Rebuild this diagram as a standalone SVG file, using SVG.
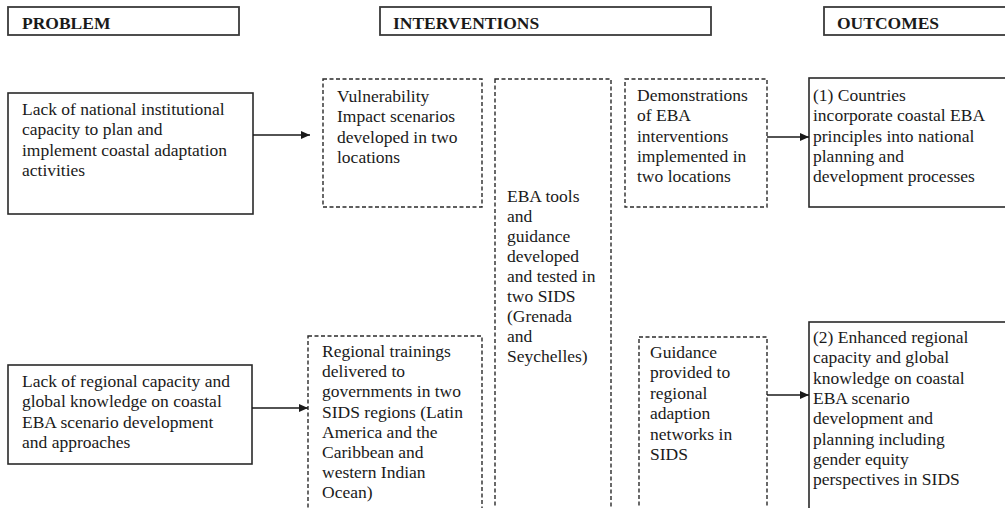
<svg xmlns="http://www.w3.org/2000/svg" width="1005" height="508" viewBox="0 0 1005 508">
<style>
.hdr{fill:#fff;stroke:#3a3a3a;stroke-width:1.8}
.solid{fill:#fff;stroke:#2a2a2a;stroke-width:1.6}
.dash{fill:#fff;stroke:#2a2a2a;stroke-width:1.4;stroke-dasharray:4 2.5}
text{font-family:"Liberation Serif","Times New Roman",serif;font-size:17.5px;fill:#1a1a1a}
.h{font-weight:bold}
.conn line{stroke:#1a1a1a;stroke-width:1.6}
</style>
<defs>
<marker id="ah" markerWidth="10" markerHeight="10" refX="9" refY="5" orient="auto" markerUnits="userSpaceOnUse">
<path d="M0,1 L9,5 L0,9 Z" fill="#1a1a1a"/>
</marker>
</defs>
<g id="hdr-problem"><rect class="hdr" x="8" y="7" width="231" height="28"/><text class="h" x="22" y="29">PROBLEM</text></g>
<g id="hdr-interventions"><rect class="hdr" x="380" y="7" width="331" height="28"/><text class="h" x="393" y="29">INTERVENTIONS</text></g>
<g id="hdr-outcomes"><rect class="hdr" x="824" y="7" width="190" height="28"/><text class="h" x="837" y="29">OUTCOMES</text></g>

<g id="problem1"><rect class="solid" x="8" y="93" width="245" height="121"/>
<text x="22" y="115"><tspan x="22">Lack of national institutional</tspan><tspan x="22" dy="20.3">capacity to plan and</tspan><tspan x="22" dy="20.3">implement coastal adaptation</tspan><tspan x="22" dy="20.3">activities</tspan></text></g>

<g id="problem2"><rect class="solid" x="8" y="365" width="244" height="99"/>
<text x="22" y="387"><tspan x="22">Lack of regional capacity and</tspan><tspan x="22" dy="20.3">global knowledge on coastal</tspan><tspan x="22" dy="20.3">EBA scenario development</tspan><tspan x="22" dy="20.3">and approaches</tspan></text></g>

<g id="vulnerability"><rect class="dash" x="323" y="79" width="159" height="128"/>
<text x="337" y="102"><tspan x="337">Vulnerability</tspan><tspan x="337" dy="20.3">Impact scenarios</tspan><tspan x="337" dy="20.3">developed in two</tspan><tspan x="337" dy="20.3">locations</tspan></text></g>

<g id="trainings"><rect class="dash" x="308" y="336" width="174" height="175"/>
<text x="322" y="357"><tspan x="322">Regional trainings</tspan><tspan x="322" dy="20.2">delivered to</tspan><tspan x="322" dy="20.2">governments in two</tspan><tspan x="322" dy="20.2">SIDS regions (Latin</tspan><tspan x="322" dy="20.2">America and the</tspan><tspan x="322" dy="20.2">Caribbean and</tspan><tspan x="322" dy="20.2">western Indian</tspan><tspan x="322" dy="20.2">Ocean)</tspan></text></g>

<g id="eba-tools"><rect class="dash" x="495" y="79" width="116" height="432"/>
<text x="507" y="202"><tspan x="507">EBA tools</tspan><tspan x="507" dy="20">and</tspan><tspan x="507" dy="20">guidance</tspan><tspan x="507" dy="20">developed</tspan><tspan x="507" dy="20">and tested in</tspan><tspan x="507" dy="20">two SIDS</tspan><tspan x="507" dy="20">(Grenada</tspan><tspan x="507" dy="20">and</tspan><tspan x="507" dy="20">Seychelles)</tspan></text></g>

<g id="demonstrations"><rect class="dash" x="625" y="79" width="142" height="128"/>
<text x="637" y="101"><tspan x="637">Demonstrations</tspan><tspan x="637" dy="20.3">of EBA</tspan><tspan x="637" dy="20.3">interventions</tspan><tspan x="637" dy="20.3">implemented in</tspan><tspan x="637" dy="20.3">two locations</tspan></text></g>

<g id="guidance"><rect class="dash" x="639" y="337" width="128" height="174"/>
<text x="650" y="358"><tspan x="650">Guidance</tspan><tspan x="650" dy="20.4">provided to</tspan><tspan x="650" dy="20.4">regional</tspan><tspan x="650" dy="20.4">adaption</tspan><tspan x="650" dy="20.4">networks in</tspan><tspan x="650" dy="20.4">SIDS</tspan></text></g>

<g id="outcome1"><rect class="solid" x="809" y="78" width="205" height="129"/>
<text x="813" y="101"><tspan x="813">(1) Countries</tspan><tspan x="813" dy="20.3">incorporate coastal EBA</tspan><tspan x="813" dy="20.3">principles into national</tspan><tspan x="813" dy="20.3">planning and</tspan><tspan x="813" dy="20.3">development processes</tspan></text></g>

<g id="outcome2"><rect class="solid" x="809" y="322" width="205" height="190"/>
<text x="813" y="343"><tspan x="813">(2) Enhanced regional</tspan><tspan x="813" dy="20.3">capacity and global</tspan><tspan x="813" dy="20.3">knowledge on coastal</tspan><tspan x="813" dy="20.3">EBA scenario</tspan><tspan x="813" dy="20.3">development and</tspan><tspan x="813" dy="20.3">planning including</tspan><tspan x="813" dy="20.3">gender equity</tspan><tspan x="813" dy="20.3">perspectives in SIDS</tspan></text></g>

<g id="connectors" class="conn">
<line x1="253" y1="135" x2="310" y2="135" marker-end="url(#ah)"/>
<line x1="252" y1="408" x2="308" y2="408" marker-end="url(#ah)"/>
<line x1="767" y1="137" x2="809" y2="137" marker-end="url(#ah)"/>
<line x1="767" y1="395" x2="809" y2="395" marker-end="url(#ah)"/>
</g>
</svg>
